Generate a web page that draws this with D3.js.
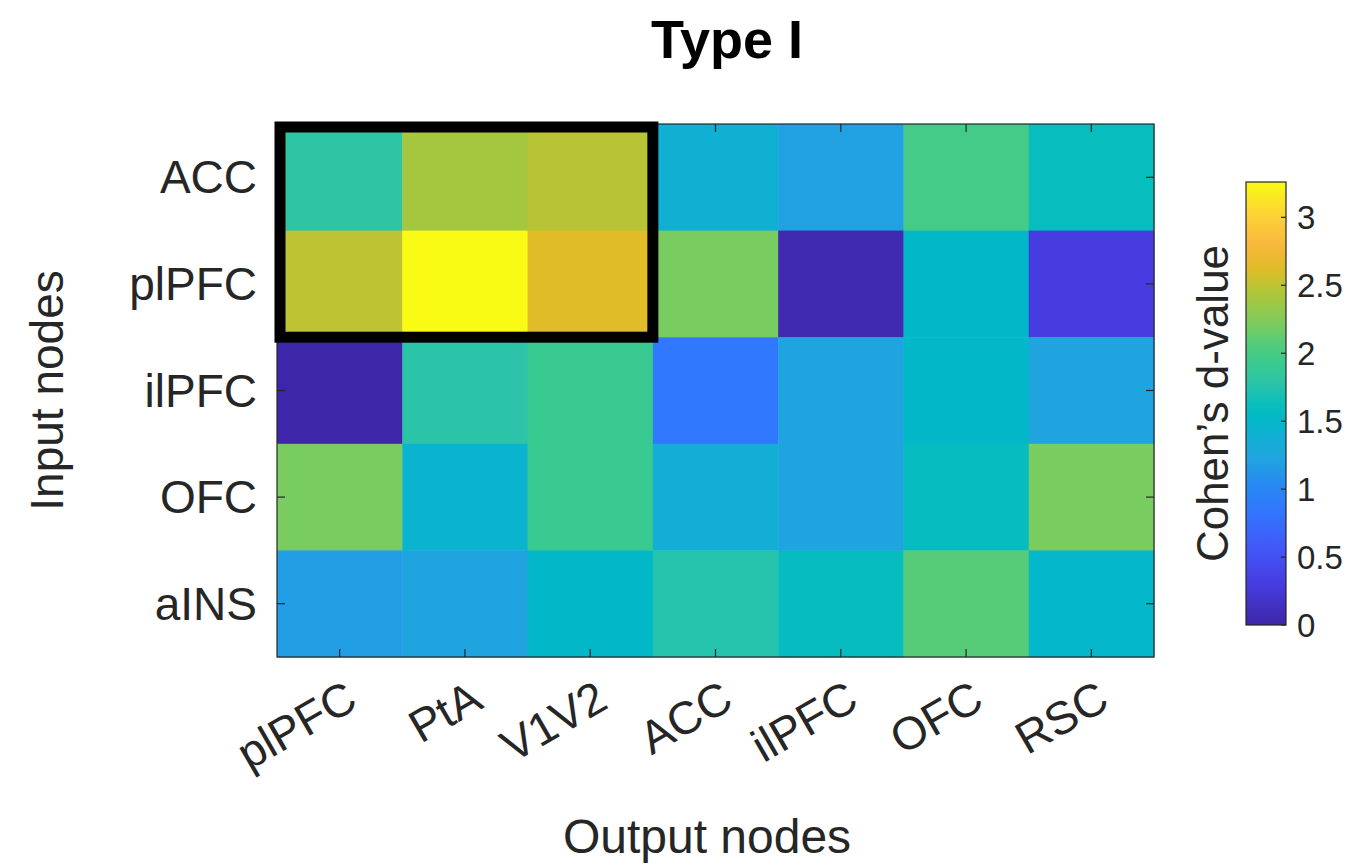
<!DOCTYPE html>
<html>
<head>
<meta charset="utf-8">
<script src="https://cdn.jsdelivr.net/npm/d3@7"></script>
<style>
  body { margin: 0; background: #fff; }
  text { font-family: "Liberation Sans", Arial, sans-serif; }
</style>
</head>
<body>
<svg id="chart" width="1360" height="866"></svg>
<script>
// data
const outputNodes = ["plPFC", "PtA", "V1V2", "ACC", "ilPFC", "OFC", "RSC"];
const inputNodes = ["ACC", "plPFC", "ilPFC", "OFC", "aINS"];
const dValues = [
  [1.80, 2.40, 2.48, 1.40, 1.20, 1.98, 1.60],
  [2.50, 3.26, 2.62, 2.20, 0.05, 1.52, 0.30],
  [0.00, 1.78, 1.92, 0.85, 1.22, 1.52, 1.22],
  [2.20, 1.45, 1.92, 1.35, 1.22, 1.58, 2.20],
  [1.18, 1.22, 1.52, 1.75, 1.58, 2.08, 1.50]
];
const colorLimits = [0, 3.26];
const colorbarTicks = [0, 0.5, 1, 1.5, 2, 2.5, 3];
const boxCols = ["plPFC", "V1V2"];   // highlighted block
const boxRows = ["ACC", "plPFC"];

// parula-like colormap, stops given as value -> colour
const parulaStops = [
  [0.00, "#3e26a8"], [0.30, "#463ce0"], [0.55, "#4256f6"], [0.85, "#3078fe"],
  [1.05, "#268cf0"], [1.22, "#20a4e0"], [1.40, "#10b0d2"], [1.52, "#02b8c8"],
  [1.62, "#08bebc"], [1.78, "#2cc4a8"], [1.92, "#38ca90"], [2.08, "#56cc78"],
  [2.20, "#78cc60"], [2.45, "#b0c638"], [2.62, "#e0bc28"], [2.80, "#f8b83c"],
  [3.00, "#fcd038"], [3.26, "#f9fb14"]
];

const svg = d3.select("#chart");
const plotLeft = 277, plotRight = 1154, plotTop = 124, plotBottom = 657;
const axisColor = "#262626";

const x = d3.scaleBand().domain(outputNodes).range([plotLeft, plotRight]);
const y = d3.scaleBand().domain(inputNodes).range([plotTop, plotBottom]);
const color = d3.scaleLinear()
  .domain(parulaStops.map(d => d[0]))
  .range(parulaStops.map(d => d[1]))
  .clamp(true);

// cells
const cells = [];
inputNodes.forEach((r, i) => outputNodes.forEach((c, j) => cells.push({row: r, col: c, v: dValues[i][j]})));
svg.append("g").selectAll("rect")
  .data(cells)
  .enter()
  .append("rect")
  .attr("x", d => x(d.col))
  .attr("y", d => y(d.row))
  .attr("width", x.bandwidth() + 0.5)
  .attr("height", y.bandwidth() + 0.5)
  .attr("fill", d => color(d.v));

// axes box with inside ticks
const tl = 8;
const axes = svg.append("g").attr("stroke", axisColor).attr("stroke-width", 1.2);
axes.append("rect")
  .attr("x", plotLeft).attr("y", plotTop)
  .attr("width", plotRight - plotLeft).attr("height", plotBottom - plotTop)
  .attr("fill", "none");
outputNodes.forEach(c => {
  const cx = x(c) + x.bandwidth() / 2;
  axes.append("line").attr("x1", cx).attr("x2", cx).attr("y1", plotBottom).attr("y2", plotBottom - tl);
  axes.append("line").attr("x1", cx).attr("x2", cx).attr("y1", plotTop).attr("y2", plotTop + tl);
});
inputNodes.forEach(r => {
  const cy = y(r) + y.bandwidth() / 2;
  axes.append("line").attr("x1", plotLeft).attr("x2", plotLeft + tl).attr("y1", cy).attr("y2", cy);
  axes.append("line").attr("x1", plotRight).attr("x2", plotRight - tl).attr("y1", cy).attr("y2", cy);
});

// highlight box
const bx0 = x(boxCols[0]), bx1 = x(boxCols[1]) + x.bandwidth();
const by0 = y(boxRows[0]), by1 = y(boxRows[1]) + y.bandwidth();
svg.append("rect")
  .attr("x", bx0 + 3).attr("y", by0 + 3)
  .attr("width", bx1 - bx0 - 3).attr("height", by1 - by0 - 3)
  .attr("fill", "none")
  .attr("stroke", "#000")
  .attr("stroke-width", 11);

// tick labels
svg.append("g").selectAll("text")
  .data(inputNodes)
  .enter()
  .append("text")
  .attr("x", plotLeft - 20)
  .attr("y", d => y(d) + y.bandwidth() / 2)
  .attr("dy", "0.35em")
  .attr("text-anchor", "end")
  .attr("font-size", 46)
  .attr("fill", axisColor)
  .text(d => d);

svg.append("g").selectAll("text")
  .data(outputNodes)
  .enter()
  .append("text")
  .attr("transform", d => "translate(" + (x(d) + x.bandwidth() / 2 + 12) + "," + (plotBottom + 36) + ") rotate(-30)")
  .attr("dy", "0.35em")
  .attr("text-anchor", "end")
  .attr("font-size", 46)
  .attr("fill", axisColor)
  .text(d => d);

// axis labels and title
svg.append("text")
  .attr("x", 707)
  .attr("y", 853)
  .attr("text-anchor", "middle")
  .attr("font-size", 48)
  .attr("fill", axisColor)
  .text("Output nodes");

svg.append("text")
  .attr("transform", "translate(63," + ((plotTop + plotBottom) / 2) + ") rotate(-90)")
  .attr("text-anchor", "middle")
  .attr("font-size", 46)
  .attr("fill", axisColor)
  .text("Input nodes");

svg.append("text")
  .attr("x", 727)
  .attr("y", 58)
  .attr("text-anchor", "middle")
  .attr("font-size", 54)
  .attr("font-weight", "bold")
  .attr("fill", "#000")
  .text("Type I");

// colorbar
const cbLeft = 1246, cbWidth = 40, cbTop = 182, cbBottom = 625;
const cbScale = d3.scaleLinear().domain(colorLimits).range([cbBottom, cbTop]);
const grad = svg.append("defs").append("linearGradient")
  .attr("id", "cbgrad")
  .attr("x1", 0).attr("y1", 1).attr("x2", 0).attr("y2", 0);
grad.selectAll("stop")
  .data(parulaStops)
  .enter()
  .append("stop")
  .attr("offset", d => (d[0] - colorLimits[0]) / (colorLimits[1] - colorLimits[0]))
  .attr("stop-color", d => d[1]);

svg.append("rect")
  .attr("x", cbLeft).attr("y", cbTop)
  .attr("width", cbWidth).attr("height", cbBottom - cbTop)
  .attr("fill", "url(#cbgrad)")
  .attr("stroke", axisColor)
  .attr("stroke-width", 1.2);

const cbAxis = svg.append("g");
colorbarTicks.forEach(t => {
  cbAxis.append("line")
    .attr("x1", cbLeft + cbWidth).attr("x2", cbLeft + cbWidth - 5)
    .attr("y1", cbScale(t)).attr("y2", cbScale(t))
    .attr("stroke", axisColor).attr("stroke-width", 1.2);
  cbAxis.append("text")
    .attr("x", cbLeft + cbWidth + 11)
    .attr("y", cbScale(t))
    .attr("dy", "0.35em")
    .attr("font-size", 33)
    .attr("fill", axisColor)
    .text(t);
});

svg.append("text")
  .attr("transform", "translate(1228," + ((cbTop + cbBottom) / 2) + ") rotate(-90)")
  .attr("text-anchor", "middle")
  .attr("font-size", 44)
  .attr("fill", axisColor)
  .text("Cohen\u2019s d-value");
</script>
</body>
</html>
